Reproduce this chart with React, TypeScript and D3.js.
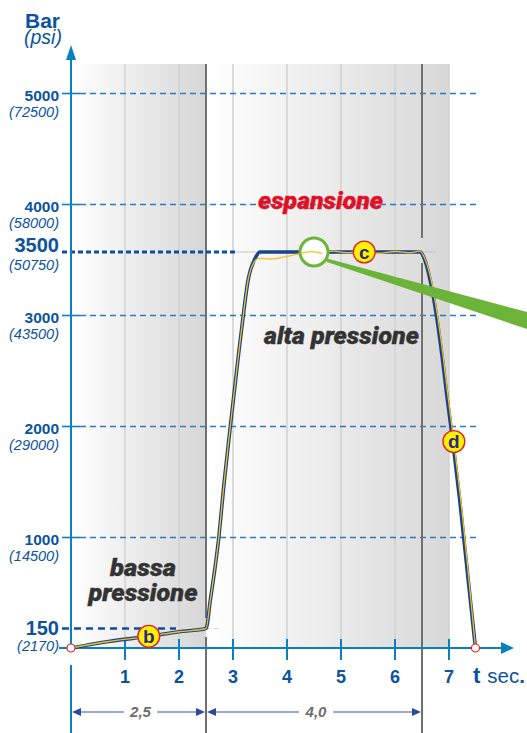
import React from "react";
import * as d3 from "d3";

const timeValues = [0, 0.7, 1.44, 2.0, 2.5, 2.58, 2.73, 2.84, 2.95, 3.09, 3.19, 3.28, 3.41, 3.5, 6.47, 6.54, 6.65, 6.76, 6.87, 6.96, 7.07, 7.2, 7.49];
const pressureValues = [0, 50, 90, 125, 150, 415, 970, 1513, 2000, 2597, 3000, 3280, 3450, 3500, 3500, 3450, 3280, 3020, 2640, 2280, 1865, 1330, 0];
const yellowTime = [0, 0.7, 1.44, 2.0, 2.5, 2.58, 2.73, 2.84, 2.95, 3.09, 3.19, 3.28, 3.39, 3.48, 3.7, 4.0, 4.25, 4.45, 4.65, 4.85, 5.1, 5.4, 5.7, 6.0, 6.3, 6.46, 6.56, 6.67, 6.78, 6.89, 6.98, 7.09, 7.22, 7.49];
const yellowPressure = [0, 50, 90, 125, 150, 415, 970, 1513, 2000, 2597, 3000, 3280, 3420, 3450, 3445, 3465, 3490, 3505, 3490, 3510, 3495, 3505, 3490, 3505, 3495, 3510, 3440, 3280, 3020, 2640, 2280, 1865, 1330, 0];
const pressureTicks = [5000, 4000, 3000, 2000, 1000];
const psiTicks = ["(72500)", "(58000)", "(43500)", "(29000)", "(14500)"];
const timeTicks = [1, 2, 3, 4, 5, 6, 7];
const firstPhase = 2.5;
const secondPhase = 6.5;
const markers = [
  { label: "b", t: 1.44, p: 90 },
  { label: "c", t: 5.43, p: 3500 },
  { label: "d", t: 7.09, p: 1865 },
];

const BLUE = "#0a80c0";
const TEXT = "#0b539f";
const DASH = "#2a7cc0";

const x = d3.scaleLinear().domain([0, 7]).range([71, 449]);
const y = d3
  .scaleLinear()
  .domain([0, 150, 1000, 2000, 3000, 3500, 4000, 5000])
  .range([648, 628.5, 537.5, 426.5, 315.5, 252, 204.5, 93.5]);

const pts = (ts: number[], ps: number[]) => ts.map((t, i) => [x(t), y(ps[i])] as [number, number]);
const line = d3.line().curve(d3.curveMonotoneX);

export default function App() {
  const font = "'Liberation Sans', Arial, sans-serif";
  const heavy = "Roboto, Lato, 'Liberation Sans', sans-serif";
  const heavyProps = {
    textAnchor: "middle" as const,
    fontSize: 23,
    fontWeight: 900,
    fontStyle: "italic",
    fontFamily: heavy,
    lengthAdjust: "spacingAndGlyphs" as const,
    strokeWidth: 0.35,
  };
  const zoomT = yellowTime.filter((t) => t > 4.2 && t < 4.8);
  const zoomP = yellowPressure.filter((_, i) => yellowTime[i] > 4.2 && yellowTime[i] < 4.8);
  return (
    <svg
      width={527}
      height={733}
      style={{ position: "absolute", left: 0, top: 0, display: "block" }}
      fontFamily={font}
    >
      <defs>
        <linearGradient id="g1" x1="0" x2="1" y1="0" y2="0">
          <stop offset="0" stopColor="#ffffff" />
          <stop offset="1" stopColor="#d6d6d6" />
        </linearGradient>
        <linearGradient id="g2" x1="0" x2="1" y1="0" y2="0">
          <stop offset="0" stopColor="#ffffff" />
          <stop offset="1" stopColor="#d8d8d8" />
        </linearGradient>
      </defs>

      <rect x={72} y={64} width={x(firstPhase) - 72} height={584} fill="url(#g1)" />
      <rect x={x(firstPhase)} y={64} width={x(7) - x(firstPhase)} height={584} fill="url(#g2)" />

      {timeTicks.map((t) => (
        <line key={t} x1={x(t)} x2={x(t)} y1={64} y2={648} stroke="#d2d2d2" strokeWidth={1.6} />
      ))}

      {pressureTicks.map((p) => (
        <g key={p}>
          <line x1={80} x2={480} y1={y(p)} y2={y(p)} stroke={DASH} strokeWidth={1.3} strokeDasharray="6 4" />
          <line x1={62} x2={80} y1={y(p)} y2={y(p)} stroke={BLUE} strokeWidth={1.6} />
        </g>
      ))}

      <line x1={230} x2={436} y1={y(3500)} y2={y(3500)} stroke="#c4c4c4" strokeWidth={1} />
      <line x1={206} x2={220} y1={y(150)} y2={y(150)} stroke="#d8d8d8" strokeWidth={1} strokeDasharray="5 3" />
      <rect x={207} y={629} width={14} height={19} fill="#ffffff" />

      <line x1={x(firstPhase)} x2={x(firstPhase)} y1={64} y2={618} stroke="#707070" strokeWidth={2} />
      <line x1={x(firstPhase)} x2={x(firstPhase)} y1={637} y2={733} stroke="#707070" strokeWidth={2} />
      <line x1={x(secondPhase)} x2={x(secondPhase)} y1={64} y2={238} stroke="#707070" strokeWidth={2} />
      <line x1={x(secondPhase)} x2={x(secondPhase)} y1={263} y2={733} stroke="#707070" strokeWidth={2} />

      <line x1={62} x2={238} y1={y(3500)} y2={y(3500)} stroke="#0f4f9c" strokeWidth={3} strokeDasharray="5 3" />
      <line x1={62} x2={176} y1={y(150)} y2={y(150)} stroke="#0f4f9c" strokeWidth={2.4} strokeDasharray="7 5" />

      <line x1={71} x2={71} y1={58} y2={648} stroke={BLUE} strokeWidth={2} />
      <line x1={71} x2={71} y1={665} y2={733} stroke={BLUE} strokeWidth={2} />
      <path d="M71,45 L76,60 L66,60 Z" fill={BLUE} />
      <line x1={59} x2={503} y1={648} y2={648} stroke={BLUE} strokeWidth={2} />
      <path d="M514,648 L501,642 L501,654 Z" fill={BLUE} />
      {timeTicks.map((t) => (
        <line key={t} x1={x(t)} x2={x(t)} y1={639} y2={660} stroke={BLUE} strokeWidth={2} />
      ))}

      <path d={line(pts(timeValues, pressureValues))!} fill="none" stroke="#17428f" strokeWidth={3.6} strokeLinejoin="round" />
      <path d={line(pts(yellowTime, yellowPressure))!} fill="none" stroke="#f6c11a" strokeWidth={1.3} strokeLinejoin="round" />

      <path d="M327,258.5 L527,312 L527,329 L327,262 Z" fill="#6cb33a" />
      <circle cx={314} cy={252} r={14} fill="#ffffff" stroke="#6cb33a" strokeWidth={3} />
      <path d={line(pts(zoomT, zoomP))!} fill="none" stroke="#f6c11a" strokeWidth={1.3} />

      {markers.map((m) => (
        <g key={m.label}>
          <circle cx={x(m.t)} cy={y(m.p)} r={10.9} fill="#fff200" stroke="#e2202c" strokeWidth={1.4} />
          <text x={x(m.t)} y={y(m.p) + 6.5} textAnchor="middle" fontSize={19} fontWeight={700} fill="#2a2a86">
            {m.label}
          </text>
        </g>
      ))}
      <circle cx={x(0)} cy={648} r={4} fill="#ffffff" stroke="#e2202c" strokeWidth={1.2} />
      <circle cx={x(7.49)} cy={648} r={4} fill="#ffffff" stroke="#e2202c" strokeWidth={1.2} />

      <text x={25} y={27.5} fontSize={21} fontWeight={700} fill={TEXT}>Bar</text>
      <text x={24} y={44} fontSize={19.5} fontStyle="italic" fill={TEXT}>(psi)</text>

      {pressureTicks.map((p, i) => (
        <g key={p} textAnchor="end">
          <text x={59} y={y(p) + 7.5} fontSize={15.5} fontWeight={700} fill={TEXT}>{p}</text>
          <text x={59} y={y(p) + 23} fontSize={14.5} fontStyle="italic" fill={TEXT}>{psiTicks[i]}</text>
        </g>
      ))}
      <g textAnchor="end">
        <text x={59} y={252} fontSize={20} fontWeight={700} fill={TEXT}>3500</text>
        <text x={59} y={270} fontSize={14.5} fontStyle="italic" fill={TEXT}>(50750)</text>
        <text x={59} y={635} fontSize={20} fontWeight={700} fill={TEXT}>150</text>
        <text x={59} y={651} fontSize={14.5} fontStyle="italic" fill={TEXT}>(2170)</text>
      </g>

      {timeTicks.map((t) => (
        <text key={t} x={x(t)} y={683} textAnchor="middle" fontSize={18} fontWeight={700} fill={TEXT}>{t}</text>
      ))}
      <text x={473} y={683} fontSize={22} fill={TEXT}>
        <tspan fontWeight={700}>t</tspan>
        <tspan fontSize={20.5} dx={7}>sec</tspan>
        <tspan fontWeight={700} fontSize={20.5}>.</tspan>
      </text>

      <text {...heavyProps} x={320.5} y={209} fill="#e30f24" stroke="#e30f24" textLength={125}>espansione</text>
      <text {...heavyProps} x={341.5} y={344} fill="#333333" stroke="#333333" textLength={155}>alta pressione</text>
      <text {...heavyProps} x={143} y={576} fill="#333333" stroke="#333333" textLength={66}>bassa</text>
      <text {...heavyProps} x={143} y={601} fill="#333333" stroke="#333333" textLength={109}>pressione</text>

      <g stroke="#3b539e" strokeWidth={1.2}>
        <line x1={80} x2={124} y1={712} y2={712} />
        <line x1={157} x2={197} y1={712} y2={712} />
        <line x1={215} x2={299} y1={712} y2={712} />
        <line x1={333} x2={413} y1={712} y2={712} />
      </g>
      <g fill="#2a4a9a">
        <path d="M72,712 L81,708 L81,716 Z" />
        <path d="M205,712 L196,708 L196,716 Z" />
        <path d="M207,712 L216,708 L216,716 Z" />
        <path d="M421,712 L412,708 L412,716 Z" />
      </g>
      <text x={140.5} y={717} textAnchor="middle" fontSize={15} fontWeight={700} fontStyle="italic" fill="#6d6d6d">2,5</text>
      <text x={316} y={717} textAnchor="middle" fontSize={15} fontWeight={700} fontStyle="italic" fill="#6d6d6d">4,0</text>
    </svg>
  );
}
